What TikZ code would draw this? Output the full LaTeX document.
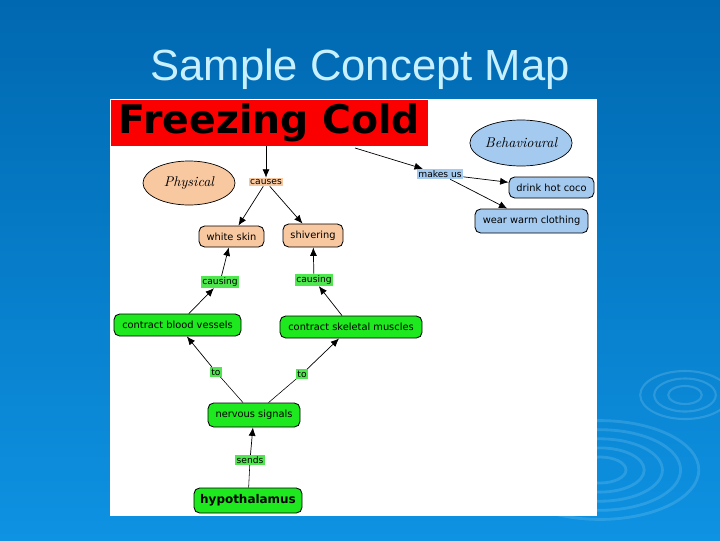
\documentclass[tikz,border=0pt]{standalone}
\usepackage{fontspec}
\setmainfont{DejaVu Sans}
\newfontfamily\titlefont{Liberation Sans}
\newfontfamily\groupfont{Latin Modern Roman}
\usetikzlibrary{arrows.meta,shapes.geometric}
\definecolor{slidetop}{RGB}{0,104,176}
\definecolor{slidebot}{RGB}{14,146,226}
\definecolor{titleblue}{RGB}{200,240,255}
\definecolor{peach}{RGB}{248,200,160}
\definecolor{skyfill}{RGB}{164,202,240}
\definecolor{nodegreen}{RGB}{30,232,30}
\definecolor{linkgreen}{RGB}{80,230,80}
\definecolor{coldred}{RGB}{250,0,0}
\newcommand{\pxu}{0.025cm}

\begin{document}
\begin{tikzpicture}[x=0.025cm,y=-0.025cm,
  concept/.style={draw,rounded corners=4pt,line width=0.6pt,inner sep=0pt,font=\fontsize{7}{8}\selectfont},
  linkword/.style={inner sep=1pt,font=\fontsize{6.5}{7}\selectfont},
  group/.style={draw,ellipse,inner sep=0pt,line width=0.5pt,font=\groupfont\itshape\fontsize{10}{12}\selectfont},
  arr/.style={-{Latex[length=6pt,width=5pt]},line width=0.5pt},
  plain/.style={line width=0.4pt}]
\useasboundingbox (0,0) rectangle (720,540);
\shade[top color=slidetop,bottom color=slidebot] (0,0) rectangle (720,540);
\foreach \r in {12,22,32}
  \draw[titleblue,opacity=0.18,line width=1.5pt] (685,395) ellipse ({\r*1.4} and {\r*0.75});
\foreach \r in {20,34,48,62,76}
  \draw[titleblue,opacity=0.16,line width=2pt] (600,470) ellipse ({\r*1.3} and {\r*0.65});
\node[titleblue,font=\titlefont\fontsize{31}{36}\selectfont] (title) at (360,69) {Sample Concept Map};
\fill[white] (110,99) rectangle (597,516);

\node[fill=coldred,minimum width=317*\pxu,minimum height=46*\pxu,inner sep=0pt,font=\bfseries\fontsize{28}{32}\selectfont] (freezing) at (269.5,123) {Freezing Cold};
\coordinate (freezingout) at (355,148);
\node[group,fill=peach,minimum width=92*\pxu,minimum height=44*\pxu] (physical) at (189,183) {Physical};
\node[group,fill=skyfill,minimum width=100*\pxu,minimum height=46*\pxu] (behave) at (521,143) {Behavioural};

\node[linkword,fill=peach] (causes) at (266,182) {causes};
\node[linkword,fill=skyfill] (makesus) at (440,174) {makes us};

\node[concept,fill=skyfill,minimum width=85*\pxu,minimum height=21*\pxu] (coco) at (551.5,187.5) {drink hot coco};
\node[concept,fill=skyfill,minimum width=113*\pxu,minimum height=24*\pxu] (clothing) at (531.5,221) {wear warm clothing};
\node[concept,fill=peach,minimum width=65*\pxu,minimum height=21*\pxu] (white) at (231.5,236.5) {white skin};
\node[concept,fill=peach,minimum width=60*\pxu,minimum height=23*\pxu] (shiver) at (313,235.5) {shivering};

\node[linkword,fill=linkgreen] (causingl) at (220,282) {causing};
\node[linkword,fill=linkgreen] (causingr) at (314,280) {causing};
\node[concept,fill=nodegreen,minimum width=127*\pxu,minimum height=22*\pxu] (blood) at (177.5,325) {contract blood vessels};
\node[concept,fill=nodegreen,minimum width=142*\pxu,minimum height=22*\pxu] (muscles) at (351,327) {contract skeletal muscles};
\node[linkword,fill=linkgreen] (tol) at (216,372) {to};
\node[linkword,fill=linkgreen] (tor) at (302,374) {to};
\node[concept,fill=nodegreen,minimum width=92*\pxu,minimum height=24*\pxu] (nervous) at (254,415) {nervous signals};
\node[linkword,fill=linkgreen] (sends) at (250,460) {sends};
\node[concept,fill=nodegreen,minimum width=108*\pxu,minimum height=25*\pxu,font=\bfseries\fontsize{8.5}{10}\selectfont] (hypo) at (248,500.5) {hypothalamus};

\draw[arr] (freezing.south -| causes) -- (causes);
\draw[arr] (causes) -- (white);
\draw[arr] (causes) -- (shiver);
\draw[arr] (freezingout) -- (makesus);
\draw[arr] (makesus) -- (coco);
\draw[arr] (makesus) -- (clothing);
\draw[arr] (blood) -- (causingl);
\draw[arr] (causingl) -- (white);
\draw[arr] (muscles) -- (causingr);
\draw[arr] (causingr) -- (shiver);
\draw[plain] (nervous) -- (tol);
\draw[arr] (tol) -- (blood);
\draw[plain] (nervous) -- (tor);
\draw[arr] (tor) -- (muscles);
\draw[plain] (hypo) -- (sends);
\draw[arr] (sends) -- (nervous);
\end{tikzpicture}
\end{document}
